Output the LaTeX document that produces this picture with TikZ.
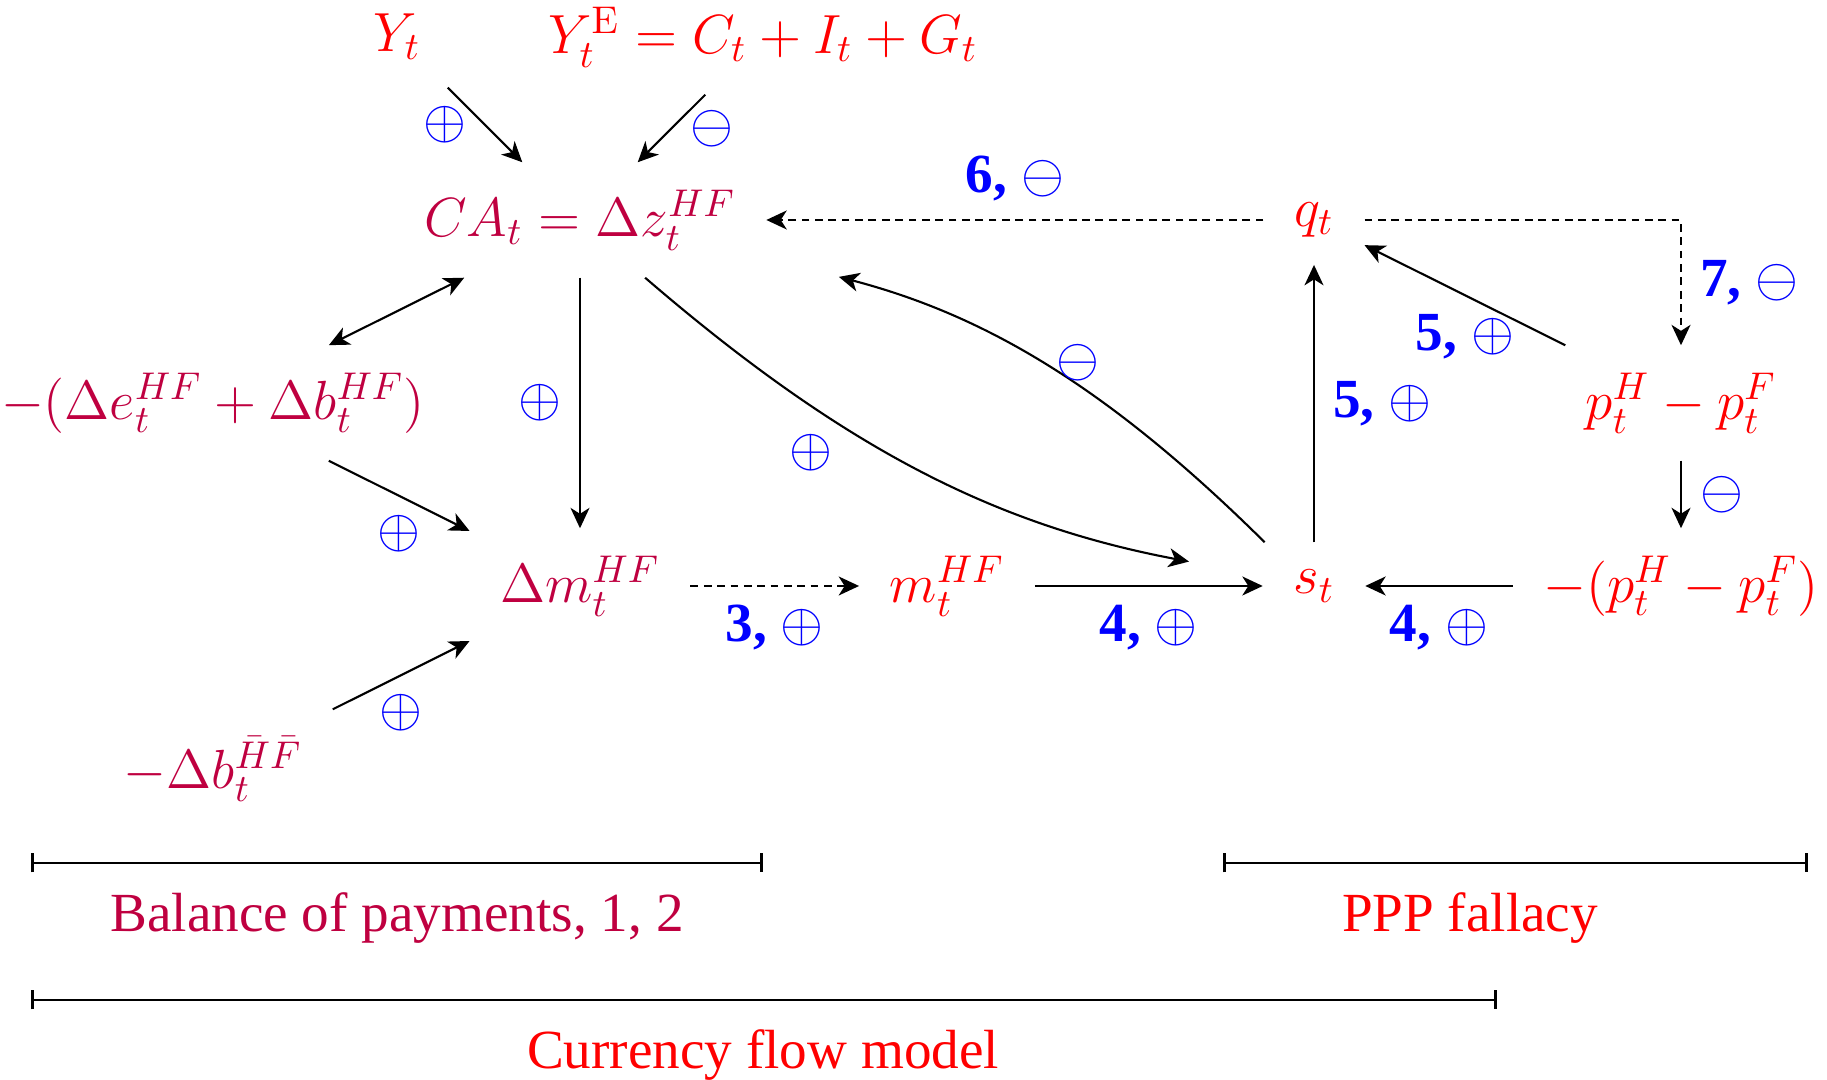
\RequirePackage{fix-cm}
\documentclass[tikz,border=0pt]{standalone}
\usepackage[no-math]{fontspec}
\setmainfont{Liberation Serif}
\usepackage{amsmath,amssymb}
\usetikzlibrary{arrows.meta,positioning}
\definecolor{bopred}{rgb}{0.75,0,0.25}

\begin{document}
\begin{tikzpicture}[>={Stealth[length=5.8pt,width=5.4pt,inset=1.7pt]},
  font=\fontsize{15.7}{18.8}\selectfont,
  var/.style={inner xsep=.3cm,inner ysep=.27cm},
  mkt/.style={var,text=red},
  bop/.style={var,text=bopred},
  arr/.style={->,line width=.6pt},
  dsh/.style={arr,dash pattern=on 2.2pt off 1.6pt},
  sgn/.style={text=blue,inner sep=.18cm},
  span/.style={{Bar[width=.19cm]}-{Bar[width=.19cm]},line width=.8pt}]
\path[use as bounding box] (0,0) rectangle (18.27,10.80);
\node[mkt] (yt) at (3.97,10.43) {$Y_t$};
\node[mkt] (ye) at (7.63,10.43) {$Y_t^{\mathrm{E}}=C_t+I_t+G_t$};
\node[bop] (ca) at (5.80,8.60) {$CA_t=\Delta z_t^{HF}$};
\node[mkt] (q) at (13.14,8.60) {$q_t$};
\node[bop] (deb) at (2.13,6.77) {$-(\Delta e_t^{HF}+\Delta b_t^{HF})$};
\node[mkt] (pd) at (16.81,6.77) {$p_t^H-p_t^F$};
\node[bop] (dm) at (5.80,4.94) {$\Delta m_t^{HF}$};
\node[mkt] (m) at (9.47,4.94) {$m_t^{HF}$};
\node[mkt] (s) at (13.14,4.94) {$s_t$};
\node[mkt] (npd) at (16.81,4.94) {$-(p_t^H-p_t^F)$};
\node[bop] (dbb) at (2.13,3.11) {$-\Delta b_t^{\bar H\bar F}$};
\draw[arr] (yt)--node[sgn,left]{$\oplus$}(ca);
\draw[arr] (ye)--node[sgn,right]{$\ominus$}(ca);
\draw[arr,<->] (ca)--(deb);
\draw[arr] (ca)--node[sgn,left]{$\oplus$}(dm);
\draw[arr] (deb)--node[sgn,below]{$\oplus$}(dm);
\draw[arr] (dbb)--node[sgn,below]{$\oplus$}(dm);
\draw[dsh] (dm)--node[sgn,below]{\textbf{3,} $\oplus$}(m);
\draw[arr] (m)--node[sgn,below]{\textbf{4,} $\oplus$}(s);
\draw[arr] (npd)--node[sgn,below]{\textbf{4,} $\oplus$}(s);
\draw[arr] (s)--node[sgn,right]{\textbf{5,} $\oplus$}(q);
\draw[arr] (pd)--node[sgn,below]{\textbf{5,} $\oplus$}(q);
\draw[arr] (pd)--node[sgn,right]{$\ominus$}(npd);
\draw[dsh] (q)--node[sgn,above]{\textbf{6,} $\ominus$}(ca);
\draw[dsh] (q)-|node[sgn,pos=.75,right]{\textbf{7,} $\ominus$}(pd);
\draw[arr,shorten >=.75cm] (ca) to[bend right=15] node[sgn,pos=.36,left,yshift=-.22cm]{$\oplus$} (s);
\draw[arr,shorten >=.75cm] (s) to[bend right=15] node[sgn,pos=.5,right]{$\ominus$} (ca);
% brackets at the bottom
\coordinate (bopL) at (0.31,2.17);
\coordinate (bopR) at (7.63,2.17);
\coordinate (pppL) at (12.23,2.17);
\coordinate (pppR) at (18.08,2.17);
\coordinate (cfmL) at (0.31,0.80);
\coordinate (cfmR) at (14.97,0.80);
\draw[span] (bopL)--(bopR);
\draw[span] (pppL)--(pppR);
\draw[span] (cfmL)--(cfmR);
\node[anchor=base,text=bopred] (boplab) at (3.97,1.48) {Balance of payments, 1, 2};
\node[anchor=base,text=red] (ppplab) at (14.70,1.48) {PPP fallacy};
\node[anchor=base,text=red] (cfmlab) at (7.63,0.11) {Currency flow model};
\end{tikzpicture}
\end{document}
